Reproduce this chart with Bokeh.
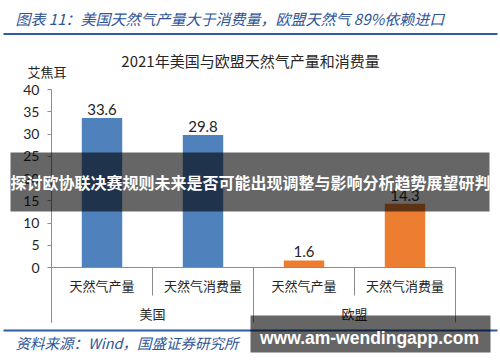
from bokeh.plotting import figure
from bokeh.models import Range1d, FixedTicker, Label, BoxAnnotation, ColumnDataSource
from bokeh.core.properties import value
from bokeh.embed import file_html
from bokeh.resources import INLINE

# ---- data ----
groups = ["美国", "美国", "欧盟", "欧盟"]
items = ["天然气产量", "天然气消费量", "天然气产量", "天然气消费量"]
values = [33.6, 29.8, 1.6, 14.3]
bar_colors = ["#4f81bd", "#4f81bd", "#ed7d31", "#ed7d31"]
group_names = ["美国", "欧盟"]
y_ticks = [0, 5, 10, 15, 20, 25, 30, 35, 40]
value_labels = ["33.6", "29.8", "1.6", "14.3"]

header = "图表 11：美国天然气产量大于消费量，欧盟天然气 89%依赖进口"
chart_title = "2021年美国与欧盟天然气产量和消费量"
unit_label = "艾焦耳"
source_note = "资料来源：Wind，国盛证券研究所"
banner = "探讨欧协联决赛规则未来是否可能出现调整与影响分析趋势展望研判"
watermark = "www.am-wendingapp.com"

CJK = "Noto Sans CJK SC"
NUM = "Lato"
W, H = 500, 362

# layout of the plotting area in page pixels
X0_PX, X_UNIT_PX = 51, 101.0      # left edge of categories, pixels per category
Y0_PX, Y_UNIT_PX = 267, 4.45      # y=0 position, pixels per unit

n = len(items)
xs = [i + 0.5 for i in range(n)]
per_group = n // len(group_names)
group_x = [per_group * g + per_group / 2 for g in range(len(group_names))]
sub_sep = [per_group * g + k for g in range(len(group_names)) for k in range(1, per_group)]
grp_sep = [per_group * g for g in range(len(group_names) + 1)]


def dy(py):
    return (Y0_PX - py) / Y_UNIT_PX


AXIS_BOTTOM = dy(322)
SUB_SEP_BOTTOM = dy(295)
SUB_Y = dy(285)
GRP_Y = dy(313)

p = figure(width=W, height=H, output_backend="svg", toolbar_location=None,
           x_range=Range1d(-X0_PX / X_UNIT_PX, (W - X0_PX) / X_UNIT_PX),
           y_range=Range1d(dy(H), dy(0)),
           x_axis_location=None, min_border=0)
p.outline_line_color = None
p.ygrid.visible = False
p.xgrid.visible = False
p.background_fill_color = "white"
p.border_fill_color = "white"

ax = p.yaxis[0]
ax.fixed_location = 0
ax.bounds = (AXIS_BOTTOM, max(y_ticks))
ax.ticker = FixedTicker(ticks=y_ticks)
ax.axis_line_color = "#8c8c8c"
ax.major_tick_line_color = "#8c8c8c"
ax.minor_tick_line_color = None
ax.major_tick_out = 4
ax.major_tick_in = 0
ax.major_label_standoff = 8
ax.major_label_text_font = NUM
ax.major_label_text_font_size = "14px"
ax.major_label_text_color = "#262626"

src = ColumnDataSource(dict(x=xs, top=values, color=bar_colors, lab=value_labels, item=items))
p.vbar(x="x", top="top", bottom=0, width=0.4, fill_color="color", line_color=None, source=src)
p.text(x="x", y="top", text="lab", source=src, text_align="center", text_baseline="bottom",
       y_offset=-3, text_font=value(NUM), text_font_size="15px", text_color="#262626")

# category axis line and separators
p.segment(x0=[0], y0=[0], x1=[n], y1=[0], line_color="#8c8c8c", line_width=1)
p.segment(x0=sub_sep, y0=[0] * len(sub_sep), x1=sub_sep, y1=[SUB_SEP_BOTTOM] * len(sub_sep),
          line_color="#8c8c8c", line_width=1)
p.segment(x0=grp_sep, y0=[0] * len(grp_sep), x1=grp_sep, y1=[AXIS_BOTTOM] * len(grp_sep),
          line_color="#8c8c8c", line_width=1)
p.text(x=xs, y=[SUB_Y] * n, text=items, text_align="center", text_baseline="middle",
       text_font=value(CJK), text_font_size="13px", text_color="#262626")
p.text(x=group_x, y=[GRP_Y] * len(group_x), text=group_names, text_align="center",
       text_baseline="middle", text_font=value(CJK), text_font_size="13px", text_color="#262626")


def sx(px):
    return px


def sy(py):
    return H - py


def box(l, r, t, b, color, alpha):
    return BoxAnnotation(left=sx(l), right=sx(r), top=sy(t), bottom=sy(b),
                         left_units="screen", right_units="screen", top_units="screen",
                         bottom_units="screen", fill_color=color, fill_alpha=alpha,
                         line_color=None)


BLUE = "#2e5ba6"
TXT_BLUE = "#2f5597"
p.add_layout(Label(x=sx(15), y=sy(18), x_units="screen", y_units="screen", text=header,
                   text_font=CJK, text_font_size="15px", text_font_style="italic",
                   text_color=TXT_BLUE, text_baseline="middle"))
p.add_layout(box(3, 497, 32.5, 34.5, BLUE, 1))
p.add_layout(Label(x=sx(250), y=sy(60), x_units="screen", y_units="screen", text=chart_title,
                   text_font=CJK, text_font_size="15px", text_color="#262626",
                   text_align="center", text_baseline="middle"))
p.add_layout(Label(x=sx(27), y=sy(71), x_units="screen", y_units="screen", text=unit_label,
                   text_font=CJK, text_font_size="13px", text_color="#262626",
                   text_baseline="middle"))
# banner overlay
p.add_layout(box(10, 489, 152, 211, "black", 0.6))
p.add_layout(Label(x=sx(250), y=sy(181), x_units="screen", y_units="screen", text=banner,
                   text_font=CJK, text_font_size="16px", text_font_style="bold", text_color="white",
                   text_align="center", text_baseline="middle"))
# footer
p.add_layout(box(3, 497, 329, 331, BLUE, 1))
p.add_layout(Label(x=sx(15), y=sy(342), x_units="screen", y_units="screen", text=source_note,
                   text_font=CJK, text_font_size="14.5px", text_font_style="italic",
                   text_color=TXT_BLUE, text_baseline="middle"))
p.add_layout(box(250, 490, 315, 352, "black", 0.6))
p.add_layout(Label(x=sx(369), y=sy(337), x_units="screen", y_units="screen", text=watermark,
                   text_font="Liberation Sans", text_font_size="17.5px", text_font_style="bold",
                   text_color="white", text_align="center", text_baseline="middle"))

open("out.html", "w").write(file_html(p, INLINE))
